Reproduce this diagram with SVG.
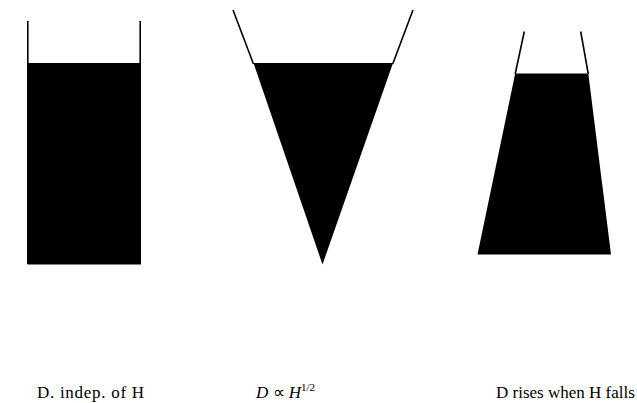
<svg xmlns="http://www.w3.org/2000/svg" width="637" height="403" viewBox="0 0 637 403">
<style>
.wall{stroke:#000;stroke-width:1.6;fill:none}
.liq{fill:#000}
.lbl{font-family:"Liberation Serif","Times New Roman",serif;font-size:17px;fill:#000}
</style>
<rect width="637" height="403" fill="#fff"/>
<g id="cylinder">
<line class="wall" x1="27.8" y1="21" x2="27.8" y2="264"/>
<line class="wall" x1="140.2" y1="21" x2="140.2" y2="264"/>
<rect class="liq" x="27.5" y="63" width="113.5" height="201.5"/>
</g>
<g id="cone">
<line class="wall" x1="233" y1="10" x2="253.5" y2="64"/>
<line class="wall" x1="413" y1="10" x2="392.7" y2="64"/>
<polygon class="liq" points="253.5,63 393,63 322.5,264.5"/>
</g>
<g id="frustum">
<line class="wall" x1="524.3" y1="31.5" x2="515.2" y2="74"/>
<line class="wall" x1="580.7" y1="31.5" x2="588.3" y2="74"/>
<polygon class="liq" points="515.2,73.5 588.3,73.5 611,254.5 477.5,254.5"/>
</g>
<g id="labels">
<text class="lbl" x="37" y="398" textLength="107" lengthAdjust="spacing">D. indep. of H</text>
<text class="lbl" x="256" y="398"><tspan font-style="italic">D</tspan> ∝ <tspan font-style="italic">H</tspan><tspan font-size="11px" dy="-7">1/2</tspan></text>
<text class="lbl" x="496" y="398">D rises when H falls</text>
</g>
</svg>
